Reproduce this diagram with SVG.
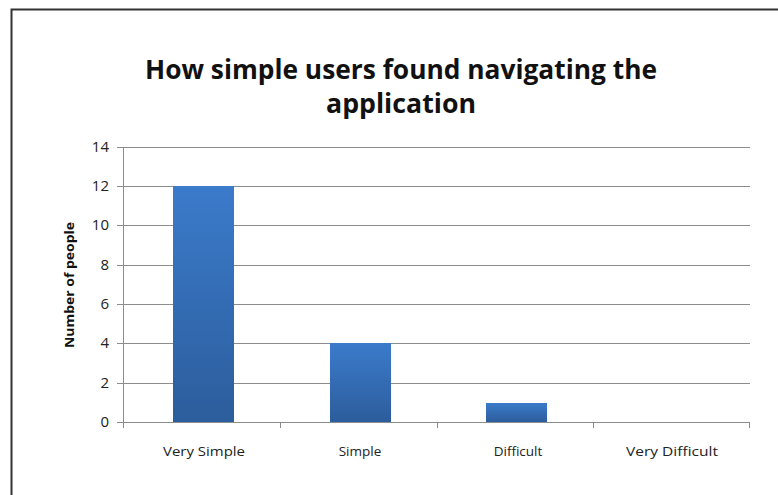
<svg xmlns="http://www.w3.org/2000/svg" width="778" height="495" viewBox="0 0 778 495">
<style>
.grid{stroke:#8c8c8c;stroke-width:1}
.axis{stroke:#8c8c8c;stroke-width:1}
.tick{font-family:"Open Sans","Liberation Sans",sans-serif;font-size:15px;fill:#222;text-anchor:end}
.cat{font-family:"Open Sans","Liberation Sans",sans-serif;font-size:13.5px;fill:#222;text-anchor:middle}
.title{font-family:"Open Sans","Liberation Sans",sans-serif;font-size:26px;font-weight:bold;fill:#111;text-anchor:middle}
.ytitle{font-family:"Open Sans","Liberation Sans",sans-serif;font-size:12.5px;font-weight:bold;fill:#111;text-anchor:middle}
</style>
<defs>
<linearGradient id="barg" x1="0" y1="0" x2="0" y2="1">
<stop offset="0" stop-color="#3b7bcb"/>
<stop offset="1" stop-color="#2c5d9c"/>
</linearGradient>
</defs>
<rect width="778" height="495" fill="#fff"/>
<path d="M11.5 495 V9.5 H778" fill="none" stroke="#333" stroke-width="2"/>
<g id="title">
<text class="title" x="401" y="79" textLength="512" lengthAdjust="spacingAndGlyphs">How simple users found navigating the</text>
<text class="title" x="401" y="113" textLength="150" lengthAdjust="spacingAndGlyphs">application</text>
</g>
<g id="gridlines">
<line class="grid" x1="123" y1="147.5" x2="750" y2="147.5"/>
<line class="grid" x1="123" y1="186.5" x2="750" y2="186.5"/>
<line class="grid" x1="123" y1="225.5" x2="750" y2="225.5"/>
<line class="grid" x1="123" y1="265.5" x2="750" y2="265.5"/>
<line class="grid" x1="123" y1="304.5" x2="750" y2="304.5"/>
<line class="grid" x1="123" y1="343.5" x2="750" y2="343.5"/>
<line class="grid" x1="123" y1="383.5" x2="750" y2="383.5"/>
</g>
<g id="axes">
<line class="axis" x1="123.5" y1="147" x2="123.5" y2="422"/>
<line class="axis" x1="117" y1="422.5" x2="750" y2="422.5"/>
<path class="axis" fill="none" d="M117 147.5H123 M117 186.5H123 M117 225.5H123 M117 265.5H123 M117 304.5H123 M117 343.5H123 M117 383.5H123 M123.5 422V428 M280.5 422V428 M437.5 422V428 M593.5 422V428 M749.5 422V428"/>
</g>
<g id="yticks">
<text class="tick" x="109" y="152">14</text>
<text class="tick" x="109" y="191">12</text>
<text class="tick" x="109" y="230">10</text>
<text class="tick" x="109" y="270">8</text>
<text class="tick" x="109" y="309">6</text>
<text class="tick" x="109" y="348">4</text>
<text class="tick" x="109" y="388">2</text>
<text class="tick" x="109" y="427">0</text>
</g>
<text class="ytitle" transform="translate(74 285) rotate(-90)" textLength="126" lengthAdjust="spacingAndGlyphs">Number of people</text>
<g id="bars">
<rect x="173" y="186" width="61" height="236" fill="url(#barg)"/>
<rect x="330" y="343" width="61" height="79" fill="url(#barg)"/>
<rect x="486" y="403" width="61" height="19" fill="url(#barg)"/>
</g>
<g id="categories">
<text class="cat" x="204" y="456" textLength="82" lengthAdjust="spacingAndGlyphs">Very Simple</text>
<text class="cat" x="360" y="456">Simple</text>
<text class="cat" x="518" y="456">Difficult</text>
<text class="cat" x="672" y="456" textLength="92" lengthAdjust="spacingAndGlyphs">Very Difficult</text>
</g>
</svg>
